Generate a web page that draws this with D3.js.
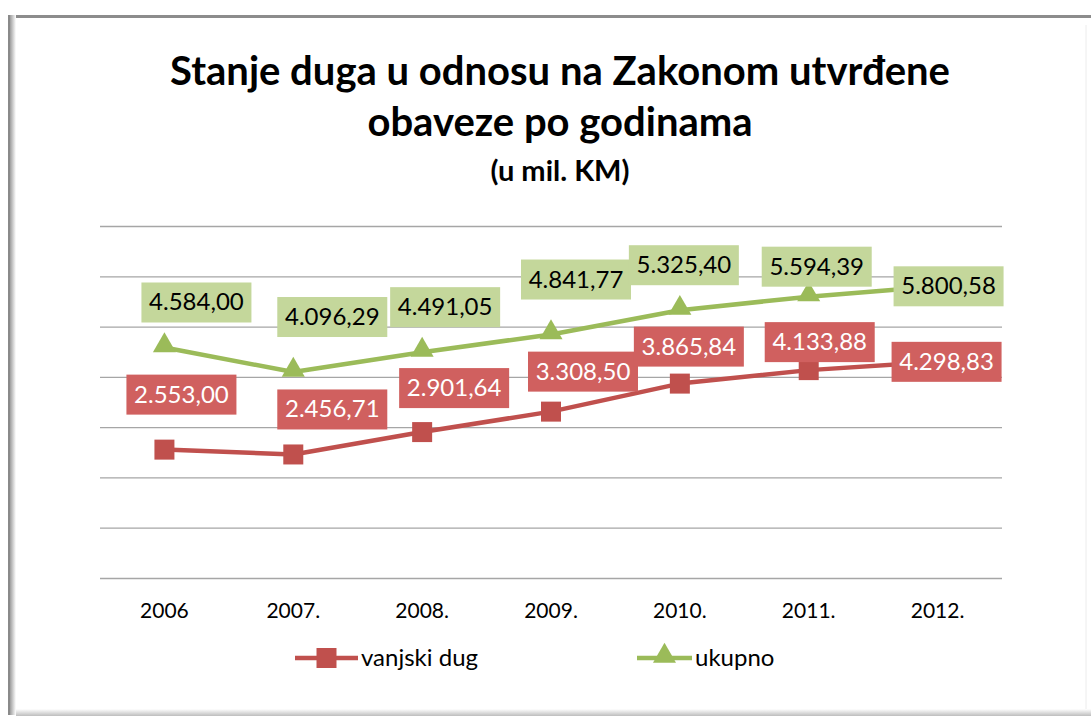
<!DOCTYPE html>
<html>
<head>
<meta charset="utf-8">
<script src="https://cdn.jsdelivr.net/npm/d3@7"></script>
<style>
  body { margin: 0; background: #fff; }
  svg { display: block; font-family: Lato, "Open Sans", sans-serif; }
</style>
</head>
<body>
<svg id="chart" width="1091" height="718"></svg>
<script>
// data
const years = ["2006", "2007.", "2008.", "2009.", "2010.", "2011.", "2012."];
const vanjskiDug = [2553.00, 2456.71, 2901.64, 3308.50, 3865.84, 4133.88, 4298.83];
const ukupno = [4584.00, 4096.29, 4491.05, 4841.77, 5325.40, 5594.39, 5800.58];
const yTicks = [0, 1000, 2000, 3000, 4000, 5000, 6000, 7000];

// hand-dragged label positions in the original (offset of box centre from point, px)
const vanjskiNudge = [[17, -55], [39, -45], [32, -44], [32, -40], [9, -37], [11, -28], [9, 0]];
const ukupnoNudge = [[32, -45], [39, -55], [23, -45], [25, -55], [4, -45], [8, -30], [11, 0]];

const fmt = v => d3.format(",.2f")(v).replace(/,/g, "#").replace(".", ",").replace(/#/g, ".");

const svg = d3.select("#chart");
const margin = { left: 100, right: 1002, top: 226, bottom: 578 };

// frame with soft shadow
const defs = svg.append("defs");
const gl = defs.append("linearGradient").attr("id", "shL");
gl.append("stop").attr("offset", 0).attr("stop-color", "#7d7d7d");
gl.append("stop").attr("offset", 1).attr("stop-color", "#ffffff");
const gb = defs.append("linearGradient").attr("id", "shB").attr("x1", 0).attr("y1", 0).attr("x2", 0).attr("y2", 1);
gb.append("stop").attr("offset", 0).attr("stop-color", "#ffffff");
gb.append("stop").attr("offset", 1).attr("stop-color", "#bdbdbd");

svg.append("rect").attr("x", 8).attr("y", 15).attr("width", 1083).attr("height", 3).attr("fill", "#8c8c8c");
svg.append("rect").attr("x", 8).attr("y", 15).attr("width", 8).attr("height", 700).attr("fill", "url(#shL)");
svg.append("rect").attr("x", 8).attr("y", 15).attr("width", 2).attr("height", 700).attr("fill", "#8a8a8a");
svg.append("rect").attr("x", 16).attr("y", 709).attr("width", 1075).attr("height", 7).attr("fill", "url(#shB)");
svg.append("line").attr("x1", 1086).attr("x2", 1086).attr("y1", 25).attr("y2", 709)
  .attr("stroke", "#ececec").attr("stroke-width", 1);

// title
const title = svg.append("text").attr("text-anchor", "middle").attr("font-weight", "bold").attr("fill", "#000");
title.append("tspan").attr("x", 560).attr("y", 85).attr("font-size", 40).text("Stanje duga u odnosu na Zakonom utvrđene");
title.append("tspan").attr("x", 560).attr("y", 136).attr("font-size", 40).text("obaveze po godinama");
title.append("tspan").attr("x", 560).attr("y", 181).attr("font-size", 29).text("(u mil. KM)");

// scales
const x = d3.scaleBand().domain(years).range([margin.left, margin.right]);
const cx = d => x(d) + x.bandwidth() / 2;
const y = d3.scaleLinear().domain([0, 7000]).range([margin.bottom, margin.top]);

// gridlines
svg.append("g")
  .attr("transform", `translate(${margin.left},0)`)
  .call(d3.axisLeft(y).tickValues(yTicks).tickSize(-(margin.right - margin.left)).tickFormat(""))
  .call(g => g.select(".domain").remove())
  .call(g => g.selectAll(".tick line").attr("stroke", "#a6a6a6").attr("stroke-width", 1.3));

// category axis
svg.append("g")
  .attr("transform", `translate(0,${margin.bottom})`)
  .call(d3.axisBottom(x).tickSize(0).tickPadding(25))
  .call(g => g.select(".domain").remove())
  .call(g => g.selectAll("text").attr("font-size", 21).attr("font-family", "Lato").attr("fill", "#000"));

const series = [
  { name: "vanjski dug", values: vanjskiDug, nudge: vanjskiNudge, line: "#c0504d", box: "#d0605f", text: "#ffffff", marker: "square" },
  { name: "ukupno", values: ukupno, nudge: ukupnoNudge, line: "#9bbb59", box: "#c4d79b", text: "#000000", marker: "triangle" }
];

const line = d3.line().x(d => cx(d.year)).y(d => y(d.value));
const sqr = d3.symbol().type(d3.symbolSquare).size(400);
const tri = d3.symbol().type(d3.symbolTriangle).size(230);

series.forEach(s => {
  const pts = years.map((yr, i) => ({ year: yr, value: s.values[i], nudge: s.nudge[i] }));
  const g = svg.append("g");
  g.append("path").datum(pts).attr("d", line)
    .attr("fill", "none").attr("stroke", s.line).attr("stroke-width", 4.5).attr("stroke-linejoin", "round");
  g.selectAll("path.mk").data(pts).enter().append("path").attr("class", "mk")
    .attr("d", s.marker === "square" ? sqr : tri)
    .attr("transform", d => `translate(${cx(d.year)},${y(d.value) + (s.marker === "triangle" ? -2 : 0)})`)
    .attr("fill", s.line);
  const lab = g.selectAll("g.lab").data(pts).enter().append("g").attr("class", "lab")
    .attr("transform", d => `translate(${cx(d.year) + d.nudge[0]},${y(d.value) + d.nudge[1]})`);
  lab.append("rect").attr("x", -55).attr("y", -20).attr("width", 110).attr("height", 40).attr("fill", s.box);
  lab.append("text").attr("text-anchor", "middle").attr("y", 8).attr("font-size", 24)
    .attr("fill", s.text).text(d => fmt(d.value));
});

// legend
const legend = [
  { s: series[0], x1: 295, x2: 358 },
  { s: series[1], x1: 637, x2: 692 }
];
legend.forEach(l => {
  const g = svg.append("g").attr("transform", "translate(0,658)");
  g.append("line").attr("x1", l.x1).attr("x2", l.x2).attr("stroke", l.s.line).attr("stroke-width", 4.5);
  g.append("path").attr("d", l.s.marker === "square" ? sqr : tri)
    .attr("transform", `translate(${(l.x1 + l.x2) / 2},${l.s.marker === "triangle" ? -2 : 0})`)
    .attr("fill", l.s.line);
  g.append("text").attr("x", l.x2 + 3).attr("y", 8).attr("font-size", 24).attr("fill", "#000").text(l.s.name);
});
</script>
</body>
</html>
